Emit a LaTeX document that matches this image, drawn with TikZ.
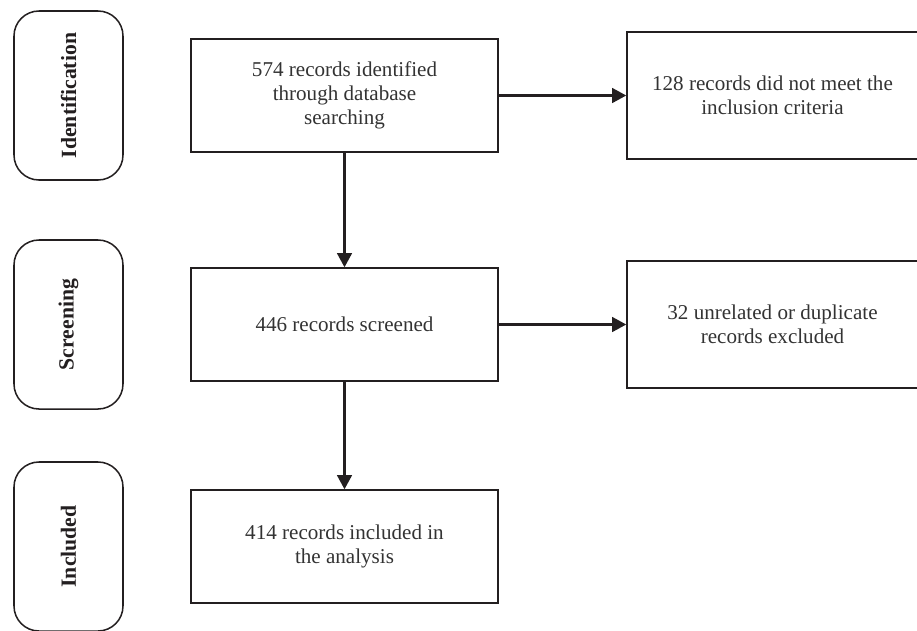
\documentclass[tikz,border=0pt]{standalone}
\usepackage{fontspec}
\setmainfont{Liberation Serif}
\usepackage{tikz}
\usetikzlibrary{
  arrows.meta,
  positioning
}
\definecolor{inkgray}{HTML}{231F20}
\definecolor{textgray}{HTML}{333333}
\tikzset{
  >={Triangle[length=0.42cm,width=0.44cm]},
  stage/.style={draw=inkgray, line width=1.3pt, rounded corners=0.75cm,
    rotate=90, minimum width=5.07cm, minimum height=3.27cm,
    font=\fontsize{18.5}{21}\selectfont\bfseries, text=inkgray},
  record/.style={draw=inkgray, line width=1.3pt, minimum width=9.21cm,
    minimum height=3.39cm, align=center, text=textgray,
    font=\fontsize{18}{20.5}\selectfont},
  excluded/.style={record, minimum width=8.73cm, minimum height=3.81cm},
  flow/.style={->, line width=1.8pt, draw=inkgray}
}

\begin{document}
\begin{tikzpicture}[x=0.03cm, y=-0.03cm]
    \useasboundingbox (0,0) rectangle (917,630);
    % stages
    \node[stage] (ident) at (68.5,95.5) {Identification};
    \node[stage] (screen) at (68.5,324.5) {Screening};
    \node[stage] (incl) at (68.5,546.5) {Included};
    % records
    \node[record] (found) at (344.5,95.5) {574 records identified\\through database\\searching};
    \node[record] (screened) at (344.5,324.5) {446 records screened};
    \node[record] (kept) at (344.5,546.5) {414 records included in\\the analysis};
    % exclusions
    \node[excluded] (unmet) at (772.5,95.5) {128 records did not meet the\\inclusion criteria};
    \node[excluded] (dupes) at (772.5,324.5) {32 unrelated or duplicate\\records excluded};
    % arrows
    \draw[flow] (found) -- (screened);
    \draw[flow] (screened) -- (kept);
    \draw[flow] (found) -- (unmet);
    \draw[flow] (screened) -- (dupes);
\end{tikzpicture}
\end{document}
